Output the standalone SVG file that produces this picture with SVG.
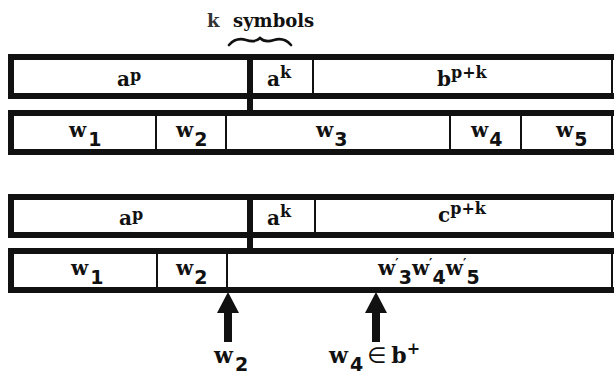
<svg xmlns="http://www.w3.org/2000/svg" width="614" height="375" viewBox="0 0 614 375">
  <style>
    .frame { fill: none; stroke: #111; stroke-width: 6; stroke-linecap: square; }
    .edge { stroke: #111; stroke-width: 2; }
    .thin { stroke: #111; stroke-width: 2; }
    .join { stroke: #111; stroke-width: 6; }
    .lbl { font-family: "DejaVu Serif", "Liberation Serif", serif; font-weight: bold; font-size: 20px; fill: #111; }
    .sub { font-size: 19px; font-family: "DejaVu Sans", "Liberation Sans", sans-serif; }
    .sup { font-size: 16px; }
    .prime { font-size: 13px; }
    .big { font-size: 22px; }
    .head { font-family: "DejaVu Serif", "Liberation Serif", serif; font-weight: bold; font-size: 18px; fill: #111; }
    .brace { fill: none; stroke: #111; stroke-width: 2.6; stroke-linecap: round; }
    .arrow { fill: #111; }
  </style>

  <rect width="614" height="375" fill="#fff"/>

  <!-- heading over the k-symbol cell -->
  <g id="k-symbols">
    <text class="head" x="207" y="27"><tspan fill="#333">k</tspan><tspan x="233">symbols</tspan></text>
    <path class="brace" d="M229,45 Q236,37 246,40 Q255,43 260,38 Q265,43 274,40 Q284,37 291,45"/>
  </g>

  <!-- upper pair of tapes -->
  <g id="tape-top-1">
    <path class="frame" d="M612,57 H11 V96 H612"/>
    <line class="edge" x1="612" y1="55" x2="612" y2="98"/>
    <line class="thin" x1="313" y1="60" x2="313" y2="93"/>
    <text class="lbl" x="117" y="86">a<tspan class="sup" dy="-5">p</tspan></text>
    <text class="lbl" x="267" y="86">a<tspan class="sup" dy="-8">k</tspan></text>
    <text class="lbl" x="437" y="86">b<tspan class="sup" dy="-8">p+k</tspan></text>
  </g>

  <g id="tape-top-2">
    <path class="frame" d="M612,113 H11 V152 H612"/>
    <line class="edge" x1="612" y1="111" x2="612" y2="154"/>
    <line class="thin" x1="156" y1="116" x2="156" y2="149"/>
    <line class="thin" x1="226" y1="116" x2="226" y2="149"/>
    <line class="thin" x1="450" y1="116" x2="450" y2="149"/>
    <line class="thin" x1="521" y1="116" x2="521" y2="149"/>
    <text class="lbl" x="69" y="137">w<tspan class="sub" dx="2" dy="9">1</tspan></text>
    <text class="lbl" x="176" y="137">w<tspan class="sub" dx="1" dy="9">2</tspan></text>
    <text class="lbl" x="316" y="137">w<tspan class="sub" dx="1" dy="9">3</tspan></text>
    <text class="lbl" x="471" y="137">w<tspan class="sub" dx="1" dy="9">4</tspan></text>
    <text class="lbl" x="556" y="137">w<tspan class="sub" dx="1" dy="9">5</tspan></text>
  </g>

  <!-- lower pair of tapes -->
  <g id="tape-bottom-1">
    <path class="frame" d="M612,197 H11 V235 H612"/>
    <line class="edge" x1="612" y1="195" x2="612" y2="237"/>
    <line class="thin" x1="315" y1="200" x2="315" y2="232"/>
    <text class="lbl" x="119" y="225">a<tspan class="sup" dy="-5">p</tspan></text>
    <text class="lbl" x="267" y="225">a<tspan class="sup" dy="-8">k</tspan></text>
    <text class="lbl" x="438" y="222">c<tspan class="sup" dy="-8">p+k</tspan></text>
  </g>

  <g id="tape-bottom-2">
    <path class="frame" d="M612,251 H11 V290 H612"/>
    <line class="edge" x1="612" y1="249" x2="612" y2="292"/>
    <line class="thin" x1="157" y1="254" x2="157" y2="287"/>
    <line class="thin" x1="227" y1="254" x2="227" y2="287"/>
    <text class="lbl" x="71" y="275">w<tspan class="sub" dx="2" dy="9">1</tspan></text>
    <text class="lbl" x="176" y="275">w<tspan class="sub" dx="1" dy="9">2</tspan></text>
    <text class="lbl" x="378" y="275">w<tspan class="prime" dy="-7">′</tspan><tspan class="sub" dy="16">3</tspan><tspan dy="-9">w</tspan><tspan class="prime" dy="-7">′</tspan><tspan class="sub" dy="16">4</tspan><tspan dy="-9">w</tspan><tspan class="prime" dy="-7">′</tspan><tspan class="sub" dy="16">5</tspan></text>
  </g>

  <!-- labels under the pointers -->
  <g id="label-w2">
    <text class="lbl big" x="214" y="363">w<tspan class="sub" dx="2" dy="8">2</tspan></text>
  </g>
  <g id="label-w4">
    <text class="lbl big" x="329" y="363">w<tspan class="sub" dx="2" dy="8">4</tspan><tspan dx="4" dy="-8" font-family="DejaVu Sans, sans-serif" font-weight="normal">∈</tspan><tspan dx="5">b</tspan><tspan class="sup" dy="-9">+</tspan></text>
  </g>

  <!-- connectors: the k-cell tie and the two pointers -->
  <g id="connectors">
    <line class="join" x1="250" y1="57" x2="250" y2="113"/>
    <line class="join" x1="250" y1="197" x2="250" y2="251"/>
    <path class="arrow" d="M228,292 L239,313 L232,313 L232,342 L224,342 L224,313 L217,313 Z"/>
    <path class="arrow" d="M376,292 L387,313 L380,313 L380,342 L372,342 L372,313 L365,313 Z"/>
  </g>
</svg>
